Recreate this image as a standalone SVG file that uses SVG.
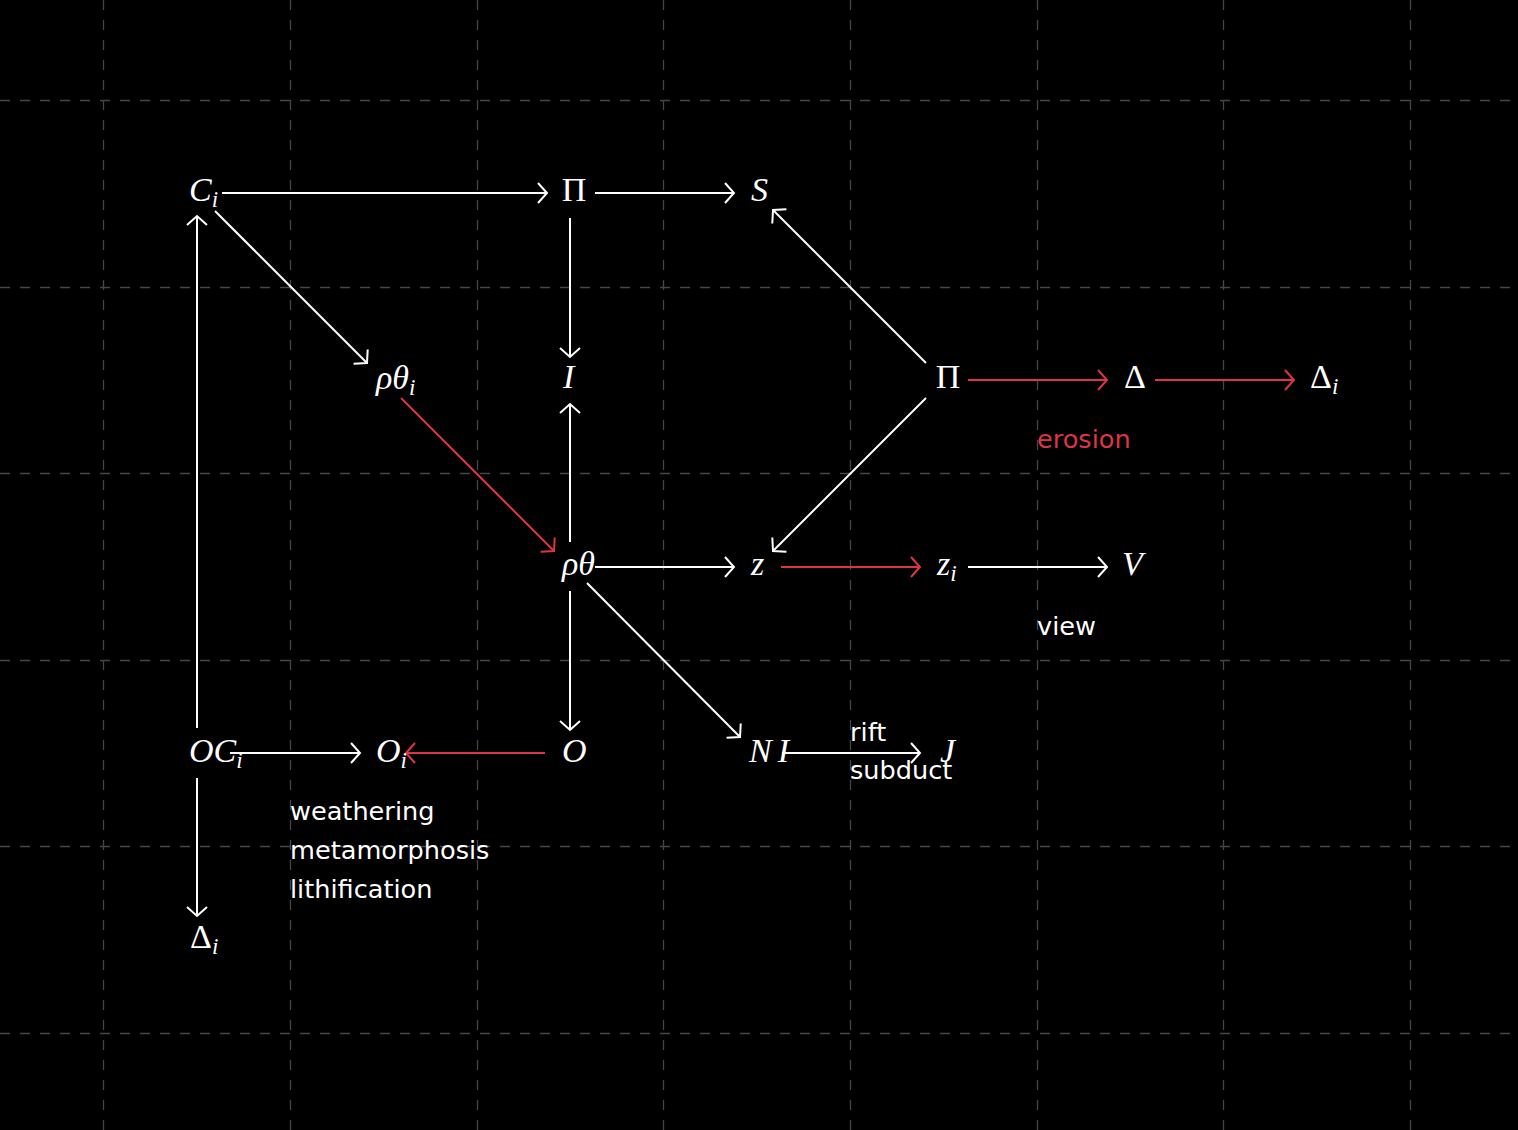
<svg xmlns="http://www.w3.org/2000/svg" width="1518" height="1130" viewBox="0 0 1518 1130">
<style>
.grid{stroke:#464646;stroke-width:1.3;stroke-dasharray:10 10}
.w{stroke:#ffffff;stroke-width:2;fill:none}
.r{stroke:#dc3545;stroke-width:2;fill:none}
.m{font-family:"Liberation Serif","DejaVu Serif",serif;font-size:34px;fill:#ffffff;font-style:italic}
.g{font-style:normal}
.s{font-size:23px}
.lab{font-family:"DejaVu Sans","Noto Sans",sans-serif;font-size:25.6px;fill:#ffffff}
.labr{fill:#dc3545}
</style>
<defs>
<marker id="aw" markerUnits="userSpaceOnUse" markerWidth="30" markerHeight="30" viewBox="-15 -15 30 30" refX="0" refY="0" orient="auto">
<path d="M-9,-10 L0,0 L-9,10" fill="none" stroke="#ffffff" stroke-width="2"/>
</marker>
<marker id="ar" markerUnits="userSpaceOnUse" markerWidth="30" markerHeight="30" viewBox="-15 -15 30 30" refX="0" refY="0" orient="auto">
<path d="M-9,-10 L0,0 L-9,10" fill="none" stroke="#dc3545" stroke-width="2"/>
</marker>
</defs>
<rect width="1518" height="1130" fill="#000000"/>
<g id="grid">
<line class="grid" x1="103.5" y1="0" x2="103.5" y2="1130"/>
<line class="grid" x1="290.5" y1="0" x2="290.5" y2="1130"/>
<line class="grid" x1="477.5" y1="0" x2="477.5" y2="1130"/>
<line class="grid" x1="663.5" y1="0" x2="663.5" y2="1130"/>
<line class="grid" x1="850.5" y1="0" x2="850.5" y2="1130"/>
<line class="grid" x1="1037.5" y1="0" x2="1037.5" y2="1130"/>
<line class="grid" x1="1223.5" y1="0" x2="1223.5" y2="1130"/>
<line class="grid" x1="1410.5" y1="0" x2="1410.5" y2="1130"/>
<line class="grid" x1="0" y1="100.5" x2="1518" y2="100.5"/>
<line class="grid" x1="0" y1="287.5" x2="1518" y2="287.5"/>
<line class="grid" x1="0" y1="473.5" x2="1518" y2="473.5"/>
<line class="grid" x1="0" y1="660.5" x2="1518" y2="660.5"/>
<line class="grid" x1="0" y1="846.5" x2="1518" y2="846.5"/>
<line class="grid" x1="0" y1="1033.5" x2="1518" y2="1033.5"/>
</g>
<g id="connectors">
<line class="w" x1="222" y1="193" x2="547" y2="193" marker-end="url(#aw)"/>
<line class="w" x1="595" y1="193" x2="734" y2="193" marker-end="url(#aw)"/>
<line class="w" x1="570" y1="218" x2="570" y2="357" marker-end="url(#aw)"/>
<line class="w" x1="215" y1="211" x2="367" y2="363" marker-end="url(#aw)"/>
<line class="r" x1="401" y1="398" x2="554" y2="551" marker-end="url(#ar)"/>
<line class="w" x1="570" y1="542" x2="570" y2="404" marker-end="url(#aw)"/>
<line class="w" x1="595" y1="567" x2="734" y2="567" marker-end="url(#aw)"/>
<line class="w" x1="926" y1="363" x2="773" y2="210" marker-end="url(#aw)"/>
<line class="w" x1="926" y1="398" x2="773" y2="551" marker-end="url(#aw)"/>
<line class="r" x1="968" y1="380" x2="1107" y2="380" marker-end="url(#ar)"/>
<line class="r" x1="1155" y1="380" x2="1294" y2="380" marker-end="url(#ar)"/>
<line class="r" x1="781" y1="567" x2="920" y2="567" marker-end="url(#ar)"/>
<line class="w" x1="968" y1="567" x2="1107" y2="567" marker-end="url(#aw)"/>
<line class="w" x1="570" y1="591" x2="570" y2="730" marker-end="url(#aw)"/>
<line class="w" x1="587" y1="583" x2="740" y2="737" marker-end="url(#aw)"/>
<line class="w" x1="197" y1="728" x2="197" y2="216" marker-end="url(#aw)"/>
<line class="w" x1="230" y1="753" x2="360" y2="753" marker-end="url(#aw)"/>
<line class="r" x1="545" y1="753" x2="406" y2="753" marker-end="url(#ar)"/>
<line class="w" x1="782" y1="753" x2="920" y2="753" marker-end="url(#aw)"/>
<line class="w" x1="197" y1="778" x2="197" y2="916" marker-end="url(#aw)"/>
</g>
<g id="n-Ci"><text class="m" x="189" y="201">C<tspan class="s" dy="6">i</tspan></text></g>
<g id="n-Pi1"><text class="m g" x="574" y="201" text-anchor="middle">Π</text></g>
<g id="n-S"><text class="m" x="751" y="201">S</text></g>
<g id="n-rhothetai"><text class="m" x="376" y="389">ρθ<tspan class="s" dy="6">i</tspan></text></g>
<g id="n-I"><text class="m" x="563" y="388">I</text></g>
<g id="n-Pi2"><text class="m g" x="948" y="388" text-anchor="middle">Π</text></g>
<g id="n-Delta"><text class="m g" x="1135" y="388" text-anchor="middle">Δ</text></g>
<g id="n-Deltai"><text class="m" x="1310" y="388"><tspan class="g">Δ</tspan><tspan class="s" dy="6">i</tspan></text></g>
<g id="n-rhotheta"><text class="m" x="562" y="575">ρθ</text></g>
<g id="n-z"><text class="m" x="751" y="575">z</text></g>
<g id="n-zi"><text class="m" x="937" y="575">z<tspan class="s" dy="6">i</tspan></text></g>
<g id="n-V"><text class="m" x="1122" y="575">V</text></g>
<g id="n-OCi"><text class="m" x="189" y="762">OC<tspan class="s" dy="6">i</tspan></text></g>
<g id="n-Oi"><text class="m" x="376" y="762">O<tspan class="s" dy="6">i</tspan></text></g>
<g id="n-O"><text class="m" x="562" y="762">O</text></g>
<g id="n-NI"><text class="m" x="749" y="762">N<tspan dx="6">I</tspan></text></g>
<g id="n-J"><text class="m" x="940" y="762">J</text></g>
<g id="n-Deltai2"><text class="m" x="190" y="948"><tspan class="g">Δ</tspan><tspan class="s" dy="6">i</tspan></text></g>
<g id="labels">
<text class="lab labr" x="1037" y="448">erosion</text>
<text class="lab" x="1037" y="635">view</text>
<text class="lab" x="850" y="741">rift</text>
<text class="lab" x="850" y="779">subduct</text>
<text class="lab" x="290" y="820">weathering</text>
<text class="lab" x="290" y="859">metamorphosis</text>
<text class="lab" x="290" y="898">lithification</text>
</g>
</svg>
